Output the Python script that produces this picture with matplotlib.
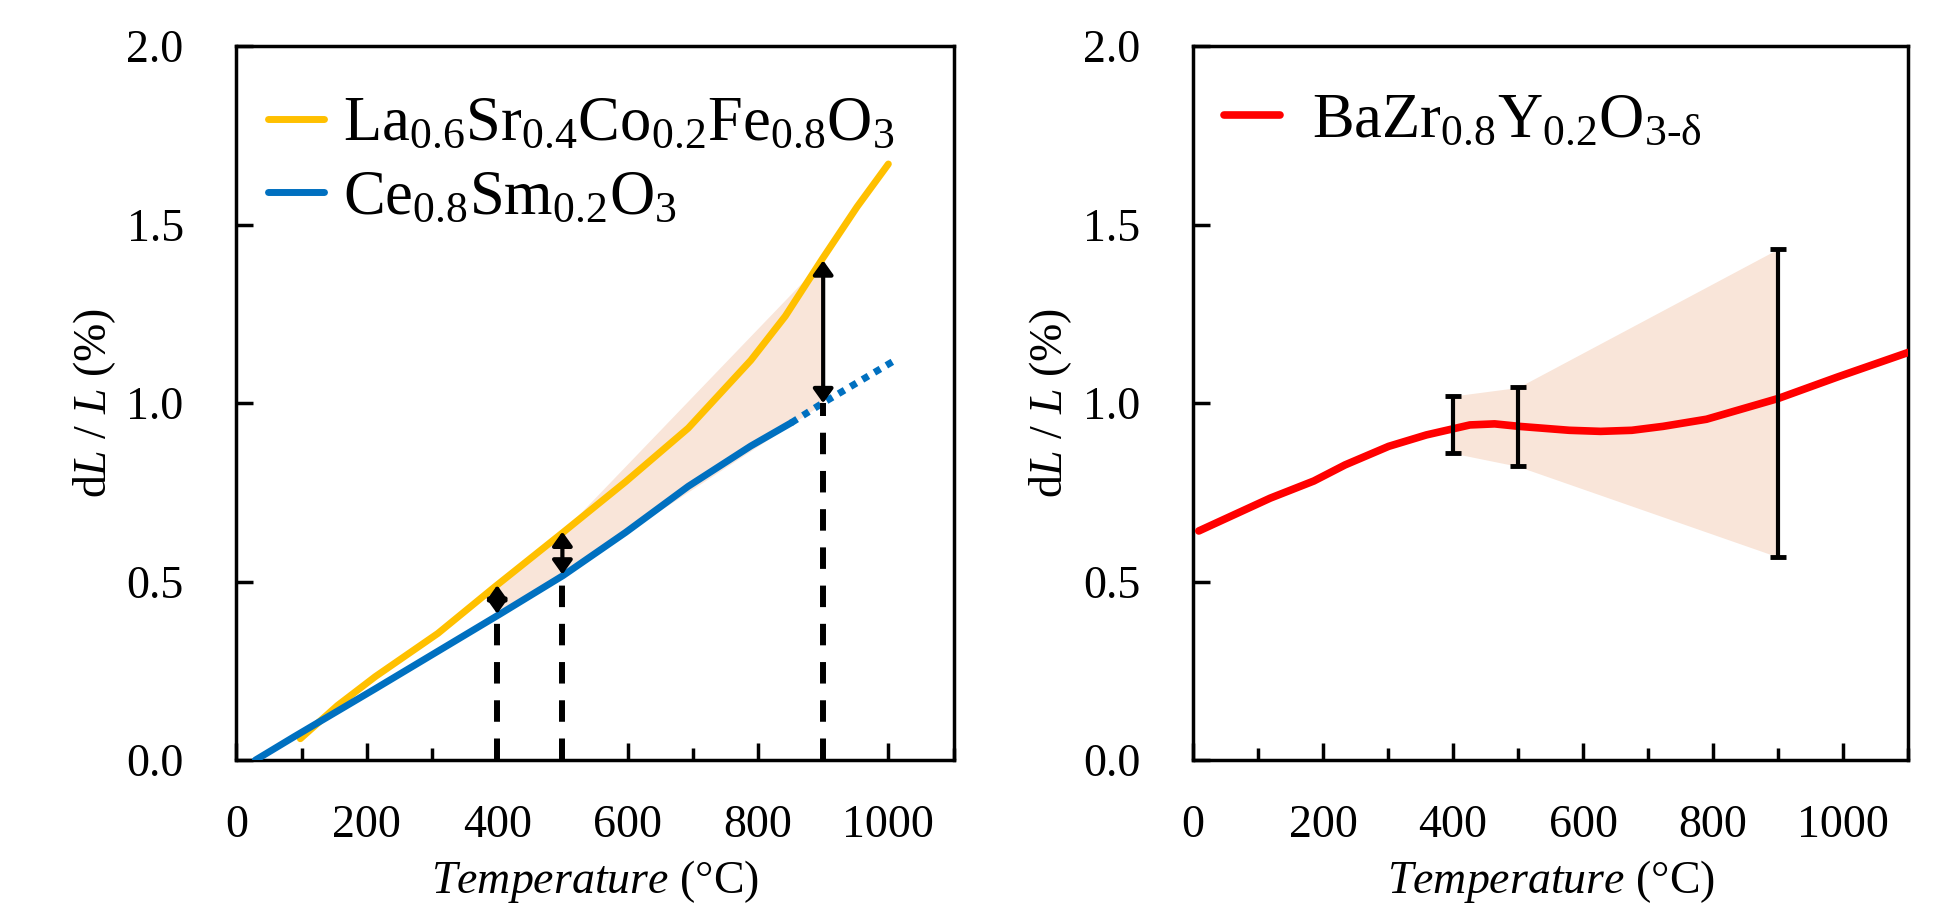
import numpy as np
import matplotlib
matplotlib.use('Agg')
import matplotlib.pyplot as plt

plt.rcParams['font.family'] = ['Liberation Serif', 'DejaVu Serif']
plt.rcParams['mathtext.fontset'] = 'custom'
plt.rcParams['mathtext.rm'] = 'Liberation Serif'
plt.rcParams['mathtext.it'] = 'Liberation Serif:italic'
plt.rcParams['mathtext.bf'] = 'Liberation Serif:bold'

# Left panel data
lscf_T = [98, 155, 213, 309, 396, 501, 597, 693, 789, 842, 899, 952, 1000]
lscf_dL = [0.06, 0.153, 0.234, 0.355, 0.485, 0.638, 0.78, 0.93, 1.12, 1.244, 1.405, 1.55, 1.67]
cso_T = [29, 88, 213, 405, 501, 597, 693, 789, 851]
cso_dL = [0.0, 0.065, 0.20, 0.41, 0.517, 0.638, 0.767, 0.88, 0.945]
cso_ext_T = [851, 899, 1010]
cso_ext_dL = [0.945, 1.0, 1.12]

mark_T = [400, 500, 900]
mark_low = [0.41, 0.52, 1.0]
mark_high = [0.49, 0.64, 1.40]

# Right panel data
bzy_T = [9, 119, 186, 234, 301, 359, 426, 464, 502, 579, 627, 675, 723, 790, 900, 991, 1100]
bzy_dL = [0.642, 0.734, 0.782, 0.827, 0.879, 0.911, 0.939, 0.942, 0.935, 0.924, 0.921,
          0.924, 0.935, 0.955, 1.013, 1.073, 1.142]
err_T = [400, 500, 900]
err_low = [0.86, 0.823, 0.569]
err_high = [1.02, 1.044, 1.432]

fill_color = '#F9E5D9'
fs = 33

fig = plt.figure(figsize=(19.54, 9.06), dpi=100)
ax1 = fig.add_axes([0.121, 0.161, 0.367, 0.788])
ax2 = fig.add_axes([0.6105, 0.161, 0.366, 0.788])

# ---- left panel
ax1.fill_between(mark_T, mark_low, mark_high, color=fill_color, lw=0, zorder=1)
ax1.plot(lscf_T, lscf_dL, color='#FFC000', lw=5, zorder=3, solid_capstyle='round',
         label='La$_{0.6}$Sr$_{0.4}$Co$_{0.2}$Fe$_{0.8}$O$_3$')
ax1.plot(cso_T, cso_dL, color='#0070C0', lw=5, zorder=3, solid_capstyle='round',
         label='Ce$_{0.8}$Sm$_{0.2}$O$_3$')
ax1.plot(cso_ext_T, cso_ext_dL, color='#0070C0', lw=5, ls=(0, (1, 1)), zorder=3)
for t, lo, hi in zip(mark_T, mark_low, mark_high):
    ax1.plot([t, t], [0, lo], color='black', lw=4.3, ls=(0, (3.6, 2.8)), zorder=4)
    ax1.annotate('', xy=(t, hi), xytext=(t, lo), zorder=5,
                 arrowprops=dict(arrowstyle='<|-|>,head_length=0.28,head_width=0.2',
                                 color='black', lw=3, mutation_scale=30,
                                 shrinkA=0, shrinkB=0))
ax1.legend(loc='upper left', bbox_to_anchor=(0, 0.973), frameon=False, fontsize=45,
           handlelength=0.9, handletextpad=0.3, labelspacing=0.25,
           borderaxespad=0.2, borderpad=0.3)

# ---- right panel
ax2.fill_between(err_T, err_low, err_high, color=fill_color, lw=0, zorder=1)
ax2.plot(bzy_T, bzy_dL, color='#FF0000', lw=5.5, zorder=3, solid_capstyle='round',
         label=r'BaZr$_{0.8}$Y$_{0.2}$O$_{3\text{-}\mathrm{\delta}}$')
mid = [(a + b) / 2 for a, b in zip(err_low, err_high)]
half = [(b - a) / 2 for a, b in zip(err_low, err_high)]
ax2.errorbar(err_T, mid, yerr=half, fmt='none', ecolor='black', elinewidth=3,
             capsize=5.5, capthick=3.5, zorder=4)
ax2.legend(loc='upper left', bbox_to_anchor=(0, 0.978), frameon=False, fontsize=45,
           handlelength=0.9, handletextpad=0.5, borderaxespad=0.2, borderpad=0.3)

for ax in (ax1, ax2):
    ax.set_xlim(0, 1100)
    ax.set_ylim(0, 2.0)
    ax.set_xticks([0, 200, 400, 600, 800, 1000])
    ax.set_xticks([100, 300, 500, 700, 900, 1100], minor=True)
    ax.set_yticks([0, 0.5, 1.0, 1.5, 2.0])
    ax.set_yticklabels(['0.0', '0.5', '1.0', '1.5', '2.0'])
    ax.tick_params(axis='both', which='both', direction='in', labelsize=fs, width=2.5,
                   top=False, right=False)
    ax.tick_params(axis='x', which='major', length=12, pad=32)
    ax.tick_params(axis='x', which='minor', length=9)
    ax.tick_params(axis='y', which='major', length=12, pad=38)
    for s in ax.spines.values():
        s.set_linewidth(2.5)
    ax.set_xlabel(r'$\it{Temperature}$ (°C)', fontsize=fs, labelpad=8)
    ax.set_ylabel(r'd$\it{L}$ / $\it{L}$ (%)', fontsize=fs, labelpad=6)

fig.savefig('out.png', dpi=100)
